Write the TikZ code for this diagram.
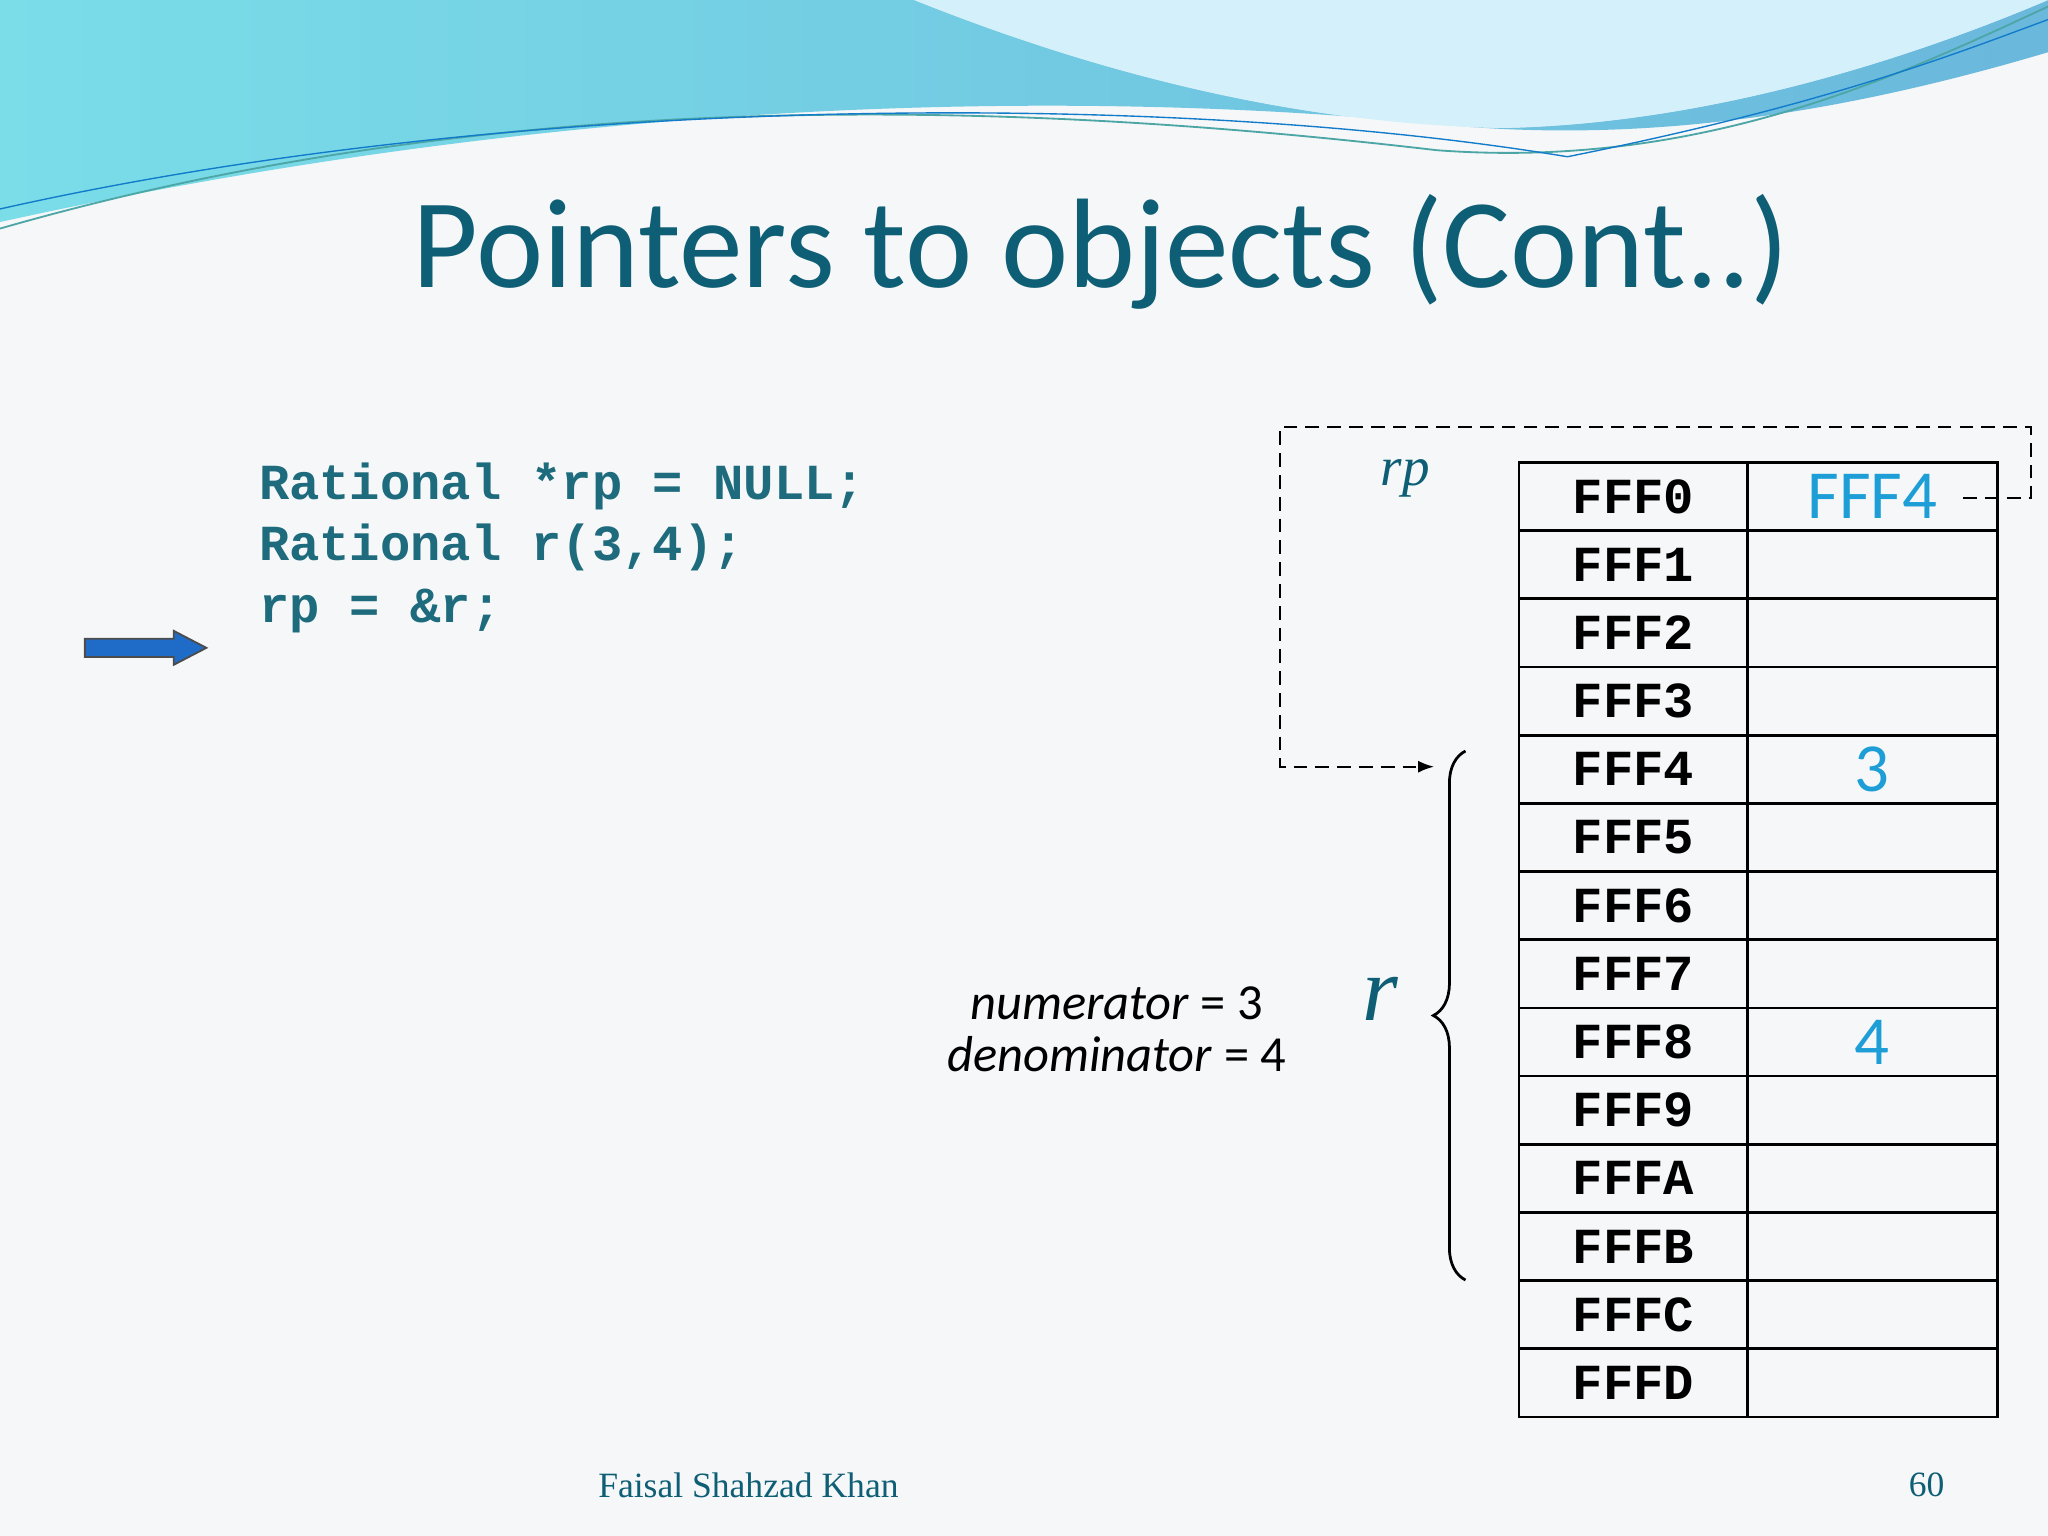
\documentclass[tikz,border=0pt]{standalone}
\usepackage{fontspec}
\setmainfont{Liberation Serif}
\newfontfamily\calfnt{Carlito}
\newfontfamily\monofnt{Liberation Mono}
\usetikzlibrary{decorations.pathreplacing,arrows.meta}
\definecolor{teal1}{HTML}{0E5F75}
\definecolor{code}{HTML}{1D6B7C}
\definecolor{val}{HTML}{1E9ED6}
\definecolor{bg}{HTML}{F6F7F9}
\definecolor{waveL}{HTML}{7ADDE8}
\definecolor{waveR}{HTML}{6AB8DC}
\definecolor{arrowc}{HTML}{1F6CC8}
\begin{document}
\begin{tikzpicture}[x=0.02cm,y=-0.02cm,
  cell/.style={draw,line width=1.2pt,minimum width=0.02cm*175,minimum height=0.02cm*52.2,anchor=north west,inner sep=0pt},
  vcell/.style={draw,line width=1.2pt,minimum width=0.02cm*191,minimum height=0.02cm*52.2,anchor=north west,inner sep=0pt},
  addr/.style={font=\monofnt\bfseries\fontsize{22}{24}\selectfont},
  val/.style={font=\calfnt\fontsize{30}{32}\selectfont,text=val}]
\fill[bg] (0,0) rectangle (1568,1176);
\useasboundingbox (0,0) rectangle (1568,1176);
% top wave
\shade[left color=waveL,right color=waveR] (0,0) -- (1568,0) -- (1568,40) .. controls (1400,90) and (1250,110) .. (1100,95) .. controls (900,75) and (500,60) .. (0,170) -- cycle;
\fill[bg] (700,0) .. controls (850,60) and (1000,95) .. (1150,98) .. controls (1300,95) and (1450,50) .. (1568,0) -- cycle;
\fill[cyan!20!white,opacity=0.8] (700,0) .. controls (850,60) and (1000,95) .. (1150,98) .. controls (1300,95) and (1450,50) .. (1568,0) -- cycle;
\draw[teal!70,line width=0.8pt] (0,175) .. controls (400,60) and (800,80) .. (1100,115) .. controls (1300,130) and (1450,60) .. (1568,5);
\draw[cyan!60!blue,line width=0.6pt] (0,160) .. controls (400,70) and (900,70) .. (1200,120) .. controls (1400,80) and (1500,40) .. (1568,15);
% title
\node[font=\calfnt\fontsize{55.5}{58}\selectfont,text=teal1] (title) at (843,193) {Pointers to objects (Cont..)};
% code
\node[text=code,anchor=north west,align=left,inner sep=0pt,font=\monofnt\bfseries\fontsize{22}{26.8}\selectfont] (code) at (198,354)
 {Rational *rp = NULL;\\Rational r(3,4);\\rp = \&r;};
\fill[arrowc] (65,489) -- (133,489) -- (133,483) -- (158,496) -- (133,509) -- (133,503) -- (65,503) -- cycle;
\draw[black!70,line width=0.8pt] (65,489) -- (133,489) -- (133,483) -- (158,496) -- (133,509) -- (133,503) -- (65,503) -- cycle;
% table
\foreach \a [count=\i from 0] in {FFF0,FFF1,FFF2,FFF3,FFF4,FFF5,FFF6,FFF7,FFF8,FFF9,FFFA,FFFB,FFFC,FFFD}{
  \node[cell] (a\i) at (1162,353+52.2*\i) {};
  \node[addr] at (a\i.center) {\a};
  \node[vcell] (v\i) at (1337,353+52.2*\i) {};
}
\node[val] at (v0.center) {FFF4};
\node[val] at (v4.center) {3};
\node[val] at (v8.center) {4};
% dashed pointer
\coordinate (s) at (1503,381);
\coordinate (e) at (1098,587);
\draw[dash pattern=on 6pt off 3.5pt,line width=0.9pt,-{Latex[length=7pt]}] (s) -- (1555,381) -- (1555,327) -- (980,327) -- (980,587) -- (e);
% brace
\draw[line width=1.2pt,decorate,decoration={brace,amplitude=14pt}] (1122,980) -- (1122,575);
\node[font=\itshape\fontsize{24}{26}\selectfont,text=teal1] (rp) at (1076,366) {rp};
\node[font=\itshape\fontsize{40}{42}\selectfont,text=teal1] (r) at (1057,765) {r};
\node[font=\calfnt\fontsize{22}{24}\selectfont,align=center] (nd) at (855,788) {\textit{numerator} = 3\\[-1pt]\textit{denominator} = 4};
\node[font=\fontsize{15.5}{18}\selectfont,text=teal1] (f) at (573,1137) {Faisal Shahzad Khan};
\node[font=\fontsize{15.5}{18}\selectfont,text=teal1] (p) at (1475,1137) {60};
\end{tikzpicture}
\end{document}
